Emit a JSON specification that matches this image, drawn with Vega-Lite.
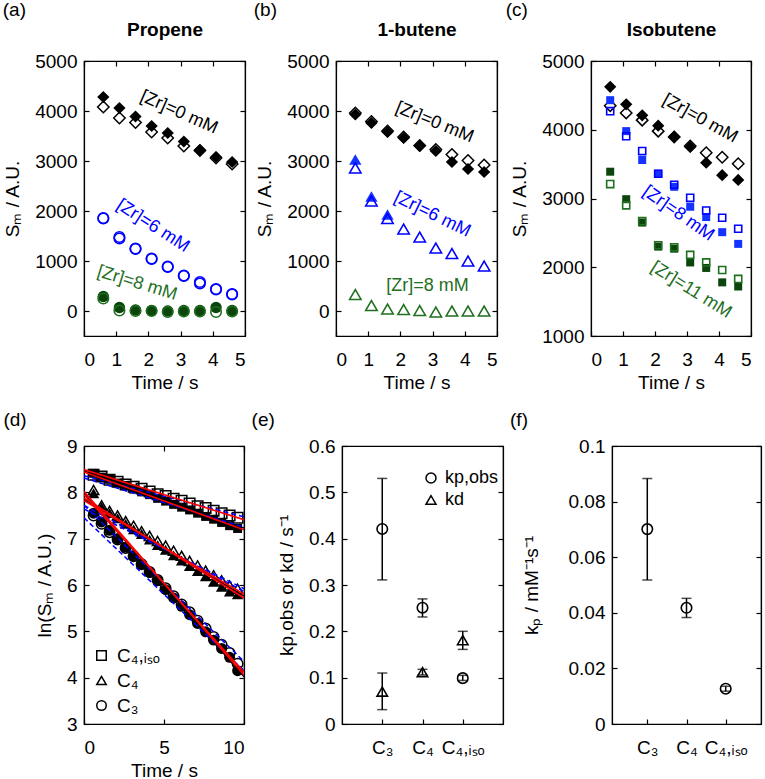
{
  "$schema": "https://vega.github.io/schema/vega-lite/v6.json",
  "padding": {"left": 2, "top": 0, "right": 0, "bottom": 0},
  "spacing": 17,
  "resolve": {"scale": {"shape": "independent", "stroke": "independent", "fill": "independent"}, "legend": {"shape": "independent"}},
  "config": {
    "font": "Liberation Sans",
    "view": {"stroke": "black", "strokeWidth": 1.2},
    "axis": {"grid": false, "domainColor": "black", "tickColor": "black", "labelColor": "black", "titleColor": "black", "labelFont": "Liberation Sans", "titleFont": "Liberation Sans", "labelFontSize": 19, "titleFontSize": 19, "titleFontWeight": "normal", "tickSize": -5, "domainWidth": 1.2, "tickWidth": 1.2},
    "axisX": {"labelPadding": 19, "titlePadding": 4, "labelAngle": 0},
    "axisY": {"labelPadding": 12, "titlePadding": 12},
    "title": {"font": "Liberation Sans", "fontSize": 19, "fontWeight": "normal", "color": "black", "anchor": "start", "frame": "bounds"},
    "legend": {"labelFont": "Liberation Sans", "labelFontSize": 19, "labelColor": "black"}
  },
  "datasets": {
    "A": [
      {"t":0.6,"v":4280,"g":"0","f":"f"},{"t":1.1,"v":4060,"g":"0","f":"f"},{"t":1.6,"v":3890,"g":"0","f":"f"},{"t":2.1,"v":3700,"g":"0","f":"f"},{"t":2.6,"v":3560,"g":"0","f":"f"},{"t":3.1,"v":3390,"g":"0","f":"f"},{"t":3.6,"v":3220,"g":"0","f":"f"},{"t":4.1,"v":3080,"g":"0","f":"f"},{"t":4.6,"v":2980,"g":"0","f":"f"},
      {"t":0.6,"v":4080,"g":"0","f":"o"},{"t":1.1,"v":3860,"g":"0","f":"o"},{"t":1.6,"v":3770,"g":"0","f":"o"},{"t":2.1,"v":3580,"g":"0","f":"o"},{"t":2.6,"v":3460,"g":"0","f":"o"},{"t":3.1,"v":3300,"g":"0","f":"o"},{"t":3.6,"v":3210,"g":"0","f":"o"},{"t":4.1,"v":3060,"g":"0","f":"o"},{"t":4.6,"v":2940,"g":"0","f":"o"},
      {"t":0.6,"v":1860,"g":"1","f":"o"},{"t":1.1,"v":1480,"g":"1","f":"o"},{"t":1.6,"v":1250,"g":"1","f":"o"},{"t":2.1,"v":1050,"g":"1","f":"o"},{"t":2.6,"v":890,"g":"1","f":"o"},{"t":3.1,"v":710,"g":"1","f":"o"},{"t":3.6,"v":580,"g":"1","f":"o"},{"t":4.1,"v":440,"g":"1","f":"o"},{"t":4.6,"v":340,"g":"1","f":"o"},
      {"t":0.6,"v":1850,"g":"1","f":"o"},{"t":1.1,"v":1450,"g":"1","f":"o"},{"t":1.6,"v":1240,"g":"1","f":"o"},{"t":2.1,"v":1040,"g":"1","f":"o"},{"t":2.6,"v":880,"g":"1","f":"o"},{"t":3.1,"v":700,"g":"1","f":"o"},{"t":3.6,"v":550,"g":"1","f":"o"},{"t":4.1,"v":430,"g":"1","f":"o"},{"t":4.6,"v":330,"g":"1","f":"o"},
      {"t":0.6,"v":290,"g":"2","f":"f"},{"t":1.1,"v":70,"g":"2","f":"f"},{"t":1.6,"v":20,"g":"2","f":"f"},{"t":2.1,"v":10,"g":"2","f":"f"},{"t":2.6,"v":0,"g":"2","f":"f"},{"t":3.1,"v":10,"g":"2","f":"f"},{"t":3.6,"v":10,"g":"2","f":"f"},{"t":4.1,"v":70,"g":"2","f":"f"},{"t":4.6,"v":10,"g":"2","f":"f"},
      {"t":0.6,"v":250,"g":"2","f":"o"},{"t":1.1,"v":10,"g":"2","f":"o"},{"t":1.6,"v":0,"g":"2","f":"o"},{"t":2.1,"v":0,"g":"2","f":"o"},{"t":2.6,"v":-20,"g":"2","f":"o"},{"t":3.1,"v":-10,"g":"2","f":"o"},{"t":3.6,"v":-10,"g":"2","f":"o"},{"t":4.1,"v":-20,"g":"2","f":"o"},{"t":4.6,"v":-10,"g":"2","f":"o"}
    ],
    "B": [
      {"t":0.6,"v":3930,"g":"0","f":"f"},{"t":1.1,"v":3760,"g":"0","f":"f"},{"t":1.6,"v":3580,"g":"0","f":"f"},{"t":2.1,"v":3460,"g":"0","f":"f"},{"t":2.6,"v":3300,"g":"0","f":"f"},{"t":3.1,"v":3200,"g":"0","f":"f"},{"t":3.6,"v":2980,"g":"0","f":"f"},{"t":4.1,"v":2840,"g":"0","f":"f"},{"t":4.6,"v":2780,"g":"0","f":"f"},
      {"t":0.6,"v":3960,"g":"0","f":"o"},{"t":1.1,"v":3790,"g":"0","f":"o"},{"t":1.6,"v":3600,"g":"0","f":"o"},{"t":2.1,"v":3480,"g":"0","f":"o"},{"t":2.6,"v":3310,"g":"0","f":"o"},{"t":3.1,"v":3230,"g":"0","f":"o"},{"t":3.6,"v":3130,"g":"0","f":"o"},{"t":4.1,"v":3010,"g":"0","f":"o"},{"t":4.6,"v":2920,"g":"0","f":"o"},
      {"t":0.6,"v":3030,"g":"1","f":"f"},{"t":1.1,"v":2290,"g":"1","f":"f"},{"t":1.6,"v":1930,"g":"1","f":"f"},
      {"t":0.6,"v":2860,"g":"1","f":"o"},{"t":1.1,"v":2200,"g":"1","f":"o"},{"t":1.6,"v":1850,"g":"1","f":"o"},{"t":2.1,"v":1640,"g":"1","f":"o"},{"t":2.6,"v":1480,"g":"1","f":"o"},{"t":3.1,"v":1260,"g":"1","f":"o"},{"t":3.6,"v":1150,"g":"1","f":"o"},{"t":4.1,"v":1000,"g":"1","f":"o"},{"t":4.6,"v":900,"g":"1","f":"o"},
      {"t":0.6,"v":330,"g":"2","f":"o"},{"t":1.1,"v":110,"g":"2","f":"o"},{"t":1.6,"v":40,"g":"2","f":"o"},{"t":2.1,"v":30,"g":"2","f":"o"},{"t":2.6,"v":10,"g":"2","f":"o"},{"t":3.1,"v":-20,"g":"2","f":"o"},{"t":3.6,"v":0,"g":"2","f":"o"},{"t":4.1,"v":0,"g":"2","f":"o"},{"t":4.6,"v":0,"g":"2","f":"o"}
    ],
    "C": [
      {"t":0.6,"v":4625,"g":"0","f":"f"},{"t":1.1,"v":4370,"g":"0","f":"f"},{"t":1.6,"v":4210,"g":"0","f":"f"},{"t":2.1,"v":4060,"g":"0","f":"f"},{"t":2.6,"v":3900,"g":"0","f":"f"},{"t":3.1,"v":3750,"g":"0","f":"f"},{"t":3.6,"v":3520,"g":"0","f":"f"},{"t":4.1,"v":3340,"g":"0","f":"f"},{"t":4.6,"v":3270,"g":"0","f":"f"},
      {"t":0.6,"v":4350,"g":"0","f":"o"},{"t":1.1,"v":4245,"g":"0","f":"o"},{"t":1.6,"v":4140,"g":"0","f":"o"},{"t":2.1,"v":3980,"g":"0","f":"o"},{"t":2.6,"v":3895,"g":"0","f":"o"},{"t":3.1,"v":3765,"g":"0","f":"o"},{"t":3.6,"v":3665,"g":"0","f":"o"},{"t":4.1,"v":3600,"g":"0","f":"o"},{"t":4.6,"v":3505,"g":"0","f":"o"},
      {"t":0.6,"v":4430,"g":"1","f":"f"},{"t":1.1,"v":3980,"g":"1","f":"f"},{"t":1.6,"v":3560,"g":"1","f":"f"},{"t":2.1,"v":3360,"g":"1","f":"f"},{"t":2.6,"v":3170,"g":"1","f":"f"},{"t":3.1,"v":2880,"g":"1","f":"f"},{"t":3.6,"v":2730,"g":"1","f":"f"},{"t":4.1,"v":2510,"g":"1","f":"f"},{"t":4.6,"v":2340,"g":"1","f":"f"},
      {"t":0.6,"v":4270,"g":"1","f":"o"},{"t":1.1,"v":3905,"g":"1","f":"o"},{"t":1.6,"v":3690,"g":"1","f":"o"},{"t":2.1,"v":3360,"g":"1","f":"o"},{"t":2.6,"v":3200,"g":"1","f":"o"},{"t":3.1,"v":3010,"g":"1","f":"o"},{"t":3.6,"v":2825,"g":"1","f":"o"},{"t":4.1,"v":2720,"g":"1","f":"o"},{"t":4.6,"v":2560,"g":"1","f":"o"},
      {"t":0.6,"v":3390,"g":"2","f":"f"},{"t":1.1,"v":2990,"g":"2","f":"f"},{"t":1.6,"v":2650,"g":"2","f":"f"},{"t":2.1,"v":2300,"g":"2","f":"f"},{"t":2.6,"v":2270,"g":"2","f":"f"},{"t":3.1,"v":2070,"g":"2","f":"f"},{"t":3.6,"v":1990,"g":"2","f":"f"},{"t":4.1,"v":1780,"g":"2","f":"f"},{"t":4.6,"v":1720,"g":"2","f":"f"},
      {"t":0.6,"v":3210,"g":"2","f":"o"},{"t":1.1,"v":2900,"g":"2","f":"o"},{"t":1.6,"v":2670,"g":"2","f":"o"},{"t":2.1,"v":2320,"g":"2","f":"o"},{"t":2.6,"v":2290,"g":"2","f":"o"},{"t":3.1,"v":2180,"g":"2","f":"o"},{"t":3.6,"v":2070,"g":"2","f":"o"},{"t":4.1,"v":1960,"g":"2","f":"o"},{"t":4.6,"v":1830,"g":"2","f":"o"}
    ],
    "D": [
      {"t":0.6,"v":8.38,"sp":"C₄,ᵢₛₒ","f":"o"},{"t":1.1,"v":8.34,"sp":"C₄,ᵢₛₒ","f":"o"},{"t":1.6,"v":8.27,"sp":"C₄,ᵢₛₒ","f":"o"},{"t":2.1,"v":8.23,"sp":"C₄,ᵢₛₒ","f":"o"},{"t":2.6,"v":8.17,"sp":"C₄,ᵢₛₒ","f":"o"},{"t":3.1,"v":8.12,"sp":"C₄,ᵢₛₒ","f":"o"},{"t":3.6,"v":8.08,"sp":"C₄,ᵢₛₒ","f":"o"},{"t":4.1,"v":8.02,"sp":"C₄,ᵢₛₒ","f":"o"},{"t":4.6,"v":7.96,"sp":"C₄,ᵢₛₒ","f":"o"},{"t":5.1,"v":7.92,"sp":"C₄,ᵢₛₒ","f":"o"},{"t":5.6,"v":7.86,"sp":"C₄,ᵢₛₒ","f":"o"},{"t":6.1,"v":7.82,"sp":"C₄,ᵢₛₒ","f":"o"},{"t":6.6,"v":7.76,"sp":"C₄,ᵢₛₒ","f":"o"},{"t":7.1,"v":7.70,"sp":"C₄,ᵢₛₒ","f":"o"},{"t":7.6,"v":7.66,"sp":"C₄,ᵢₛₒ","f":"o"},{"t":8.1,"v":7.60,"sp":"C₄,ᵢₛₒ","f":"o"},{"t":8.6,"v":7.55,"sp":"C₄,ᵢₛₒ","f":"o"},{"t":9.1,"v":7.50,"sp":"C₄,ᵢₛₒ","f":"o"},{"t":9.6,"v":7.45,"sp":"C₄,ᵢₛₒ","f":"o"},
      {"t":0.6,"v":8.41,"sp":"C₄,ᵢₛₒ","f":"f"},{"t":1.1,"v":8.33,"sp":"C₄,ᵢₛₒ","f":"f"},{"t":1.6,"v":8.28,"sp":"C₄,ᵢₛₒ","f":"f"},{"t":2.1,"v":8.20,"sp":"C₄,ᵢₛₒ","f":"f"},{"t":2.6,"v":8.15,"sp":"C₄,ᵢₛₒ","f":"f"},{"t":3.1,"v":8.07,"sp":"C₄,ᵢₛₒ","f":"f"},{"t":3.6,"v":8.01,"sp":"C₄,ᵢₛₒ","f":"f"},{"t":4.1,"v":7.95,"sp":"C₄,ᵢₛₒ","f":"f"},{"t":4.6,"v":7.87,"sp":"C₄,ᵢₛₒ","f":"f"},{"t":5.1,"v":7.81,"sp":"C₄,ᵢₛₒ","f":"f"},{"t":5.6,"v":7.74,"sp":"C₄,ᵢₛₒ","f":"f"},{"t":6.1,"v":7.68,"sp":"C₄,ᵢₛₒ","f":"f"},{"t":6.6,"v":7.62,"sp":"C₄,ᵢₛₒ","f":"f"},{"t":7.1,"v":7.55,"sp":"C₄,ᵢₛₒ","f":"f"},{"t":7.6,"v":7.48,"sp":"C₄,ᵢₛₒ","f":"f"},{"t":8.1,"v":7.42,"sp":"C₄,ᵢₛₒ","f":"f"},{"t":8.6,"v":7.35,"sp":"C₄,ᵢₛₒ","f":"f"},{"t":9.1,"v":7.28,"sp":"C₄,ᵢₛₒ","f":"f"},{"t":9.6,"v":7.22,"sp":"C₄,ᵢₛₒ","f":"f"},
      {"t":0.6,"v":8.05,"sp":"C₄","f":"o"},{"t":1.1,"v":7.72,"sp":"C₄","f":"o"},{"t":1.6,"v":7.60,"sp":"C₄","f":"o"},{"t":2.1,"v":7.50,"sp":"C₄","f":"o"},{"t":2.6,"v":7.38,"sp":"C₄","f":"o"},{"t":3.1,"v":7.28,"sp":"C₄","f":"o"},{"t":3.6,"v":7.16,"sp":"C₄","f":"o"},{"t":4.1,"v":7.06,"sp":"C₄","f":"o"},{"t":4.6,"v":6.95,"sp":"C₄","f":"o"},{"t":5.1,"v":6.85,"sp":"C₄","f":"o"},{"t":5.6,"v":6.74,"sp":"C₄","f":"o"},{"t":6.1,"v":6.63,"sp":"C₄","f":"o"},{"t":6.6,"v":6.52,"sp":"C₄","f":"o"},{"t":7.1,"v":6.42,"sp":"C₄","f":"o"},{"t":7.6,"v":6.31,"sp":"C₄","f":"o"},{"t":8.1,"v":6.21,"sp":"C₄","f":"o"},{"t":8.6,"v":6.10,"sp":"C₄","f":"o"},{"t":9.1,"v":5.99,"sp":"C₄","f":"o"},{"t":9.6,"v":5.92,"sp":"C₄","f":"o"},
      {"t":0.6,"v":7.98,"sp":"C₄","f":"f"},{"t":1.1,"v":7.68,"sp":"C₄","f":"f"},{"t":1.6,"v":7.55,"sp":"C₄","f":"f"},{"t":2.1,"v":7.44,"sp":"C₄","f":"f"},{"t":2.6,"v":7.32,"sp":"C₄","f":"f"},{"t":3.1,"v":7.20,"sp":"C₄","f":"f"},{"t":3.6,"v":7.10,"sp":"C₄","f":"f"},{"t":4.1,"v":6.98,"sp":"C₄","f":"f"},{"t":4.6,"v":6.86,"sp":"C₄","f":"f"},{"t":5.1,"v":6.76,"sp":"C₄","f":"f"},{"t":5.6,"v":6.64,"sp":"C₄","f":"f"},{"t":6.1,"v":6.53,"sp":"C₄","f":"f"},{"t":6.6,"v":6.41,"sp":"C₄","f":"f"},{"t":7.1,"v":6.30,"sp":"C₄","f":"f"},{"t":7.6,"v":6.19,"sp":"C₄","f":"f"},{"t":8.1,"v":6.07,"sp":"C₄","f":"f"},{"t":8.6,"v":5.96,"sp":"C₄","f":"f"},{"t":9.1,"v":5.86,"sp":"C₄","f":"f"},{"t":9.6,"v":5.80,"sp":"C₄","f":"f"},
      {"t":0.6,"v":7.50,"sp":"C₃","f":"o"},{"t":1.1,"v":7.32,"sp":"C₃","f":"o"},{"t":1.6,"v":7.14,"sp":"C₃","f":"o"},{"t":2.1,"v":6.98,"sp":"C₃","f":"o"},{"t":2.6,"v":6.80,"sp":"C₃","f":"o"},{"t":3.1,"v":6.62,"sp":"C₃","f":"o"},{"t":3.6,"v":6.45,"sp":"C₃","f":"o"},{"t":4.1,"v":6.28,"sp":"C₃","f":"o"},{"t":4.6,"v":6.11,"sp":"C₃","f":"o"},{"t":5.1,"v":5.93,"sp":"C₃","f":"o"},{"t":5.6,"v":5.76,"sp":"C₃","f":"o"},{"t":6.1,"v":5.58,"sp":"C₃","f":"o"},{"t":6.6,"v":5.41,"sp":"C₃","f":"o"},{"t":7.1,"v":5.23,"sp":"C₃","f":"o"},{"t":7.6,"v":5.06,"sp":"C₃","f":"o"},{"t":8.1,"v":4.88,"sp":"C₃","f":"o"},{"t":8.6,"v":4.71,"sp":"C₃","f":"o"},{"t":9.1,"v":4.53,"sp":"C₃","f":"o"},{"t":9.6,"v":4.30,"sp":"C₃","f":"o"},
      {"t":0.6,"v":7.55,"sp":"C₃","f":"f"},{"t":1.1,"v":7.36,"sp":"C₃","f":"f"},{"t":1.6,"v":7.18,"sp":"C₃","f":"f"},{"t":2.1,"v":7.00,"sp":"C₃","f":"f"},{"t":2.6,"v":6.82,"sp":"C₃","f":"f"},{"t":3.1,"v":6.63,"sp":"C₃","f":"f"},{"t":3.6,"v":6.45,"sp":"C₃","f":"f"},{"t":4.1,"v":6.27,"sp":"C₃","f":"f"},{"t":4.6,"v":6.09,"sp":"C₃","f":"f"},{"t":5.1,"v":5.90,"sp":"C₃","f":"f"},{"t":5.6,"v":5.72,"sp":"C₃","f":"f"},{"t":6.1,"v":5.54,"sp":"C₃","f":"f"},{"t":6.6,"v":5.36,"sp":"C₃","f":"f"},{"t":7.1,"v":5.17,"sp":"C₃","f":"f"},{"t":7.6,"v":4.99,"sp":"C₃","f":"f"},{"t":8.1,"v":4.81,"sp":"C₃","f":"f"},{"t":8.6,"v":4.63,"sp":"C₃","f":"f"},{"t":9.1,"v":4.44,"sp":"C₃","f":"f"},{"t":9.6,"v":4.15,"sp":"C₃","f":"f"}
    ],
    "DL": [
      {"id":"i1","k":"r","t":0,"v":8.49},{"id":"i1","k":"r","t":10,"v":7.41},
      {"id":"i2","k":"r","t":0,"v":8.44},{"id":"i2","k":"r","t":10,"v":7.19},
      {"id":"i3","k":"b","t":0,"v":8.36},{"id":"i3","k":"b","t":10,"v":7.47},
      {"id":"i4","k":"b","t":0,"v":8.31},{"id":"i4","k":"b","t":10,"v":7.25},
      {"id":"i5","k":"k","t":0,"v":8.46},{"id":"i5","k":"k","t":10,"v":7.23},
      {"id":"c1","k":"r","t":0,"v":7.88},{"id":"c1","k":"r","t":10,"v":5.72},
      {"id":"c2","k":"r","t":0,"v":7.82},{"id":"c2","k":"r","t":10,"v":5.80},
      {"id":"c3","k":"b","t":0,"v":7.72},{"id":"c3","k":"b","t":10,"v":5.86},
      {"id":"c4","k":"b","t":0,"v":7.64},{"id":"c4","k":"b","t":10,"v":5.92},
      {"id":"c5","k":"k","t":0,"v":7.85},{"id":"c5","k":"k","t":10,"v":5.76},
      {"id":"p1","k":"r","t":0,"v":8.02},{"id":"p1","k":"r","t":10,"v":4.06},
      {"id":"p2","k":"r","t":0,"v":7.95},{"id":"p2","k":"r","t":10,"v":4.12},
      {"id":"p3","k":"b","t":0,"v":7.72},{"id":"p3","k":"b","t":10,"v":4.35},
      {"id":"p4","k":"b","t":0,"v":7.45},{"id":"p4","k":"b","t":10,"v":4.15},
      {"id":"p5","k":"k","t":0,"v":7.98},{"id":"p5","k":"k","t":10,"v":4.02}
    ],
    "E": [
      {"sp":"C₃","p":"kp,obs","v":0.421,"lo":0.311,"hi":0.530},
      {"sp":"C₄","p":"kp,obs","v":0.251,"lo":0.231,"hi":0.270},
      {"sp":"C₄,ᵢₛₒ","p":"kp,obs","v":0.099,"lo":0.094,"hi":0.105},
      {"sp":"C₃","p":"kd","v":0.070,"lo":0.031,"hi":0.110},
      {"sp":"C₄","p":"kd","v":0.112,"lo":0.106,"hi":0.118},
      {"sp":"C₄,ᵢₛₒ","p":"kd","v":0.181,"lo":0.161,"hi":0.200}
    ],
    "F": [
      {"sp":"C₃","v":0.0701,"lo":0.0518,"hi":0.0883},
      {"sp":"C₄","v":0.0418,"lo":0.0383,"hi":0.0452},
      {"sp":"C₄,ᵢₛₒ","v":0.0127,"lo":0.0118,"hi":0.0136}
    ]
  },
  "vconcat": [
    {
      "spacing": 6,
      "resolve": {"scale": {"shape": "independent", "stroke": "independent", "fill": "independent"}, "legend": {"shape": "independent"}},
      "hconcat": [
        {
          "width": 161, "height": 275,
          "title": {"text": "(a)", "offset": 0, "dx": -1},
          "resolve": {"axis": {"x": "independent", "y": "independent"}},
          "layer": [
            {"data": {"name": "A"}, "mark": {"type": "point", "opacity": 0}, "encoding": {
              "x": {"field": "t", "type": "quantitative", "scale": {"domain": [0, 5]}, "axis": {"orient": "top", "labels": false, "title": "Propene", "titleFontWeight": "bold", "titlePadding": 21, "values": [0, 1, 2, 3, 4, 5]}},
              "y": {"field": "v", "type": "quantitative", "scale": {"domain": [-500, 5000]}, "axis": {"orient": "right", "labels": false, "title": null, "values": [0, 1000, 2000, 3000, 4000, 5000]}}}},
            {
              "data": {"name": "A"},
              "encoding": {
                "x": {"field": "t", "type": "quantitative", "scale": {"domain": [0, 5]}, "axis": {"orient": "bottom", "title": "Time / s", "values": [0, 1, 2, 3, 4, 5]}},
                "y": {"field": "v", "type": "quantitative", "scale": {"domain": [-500, 5000]}, "axis": {"orient": "left", "title": "Sₘ / A.U.", "values": [0, 1000, 2000, 3000, 4000, 5000], "format": "d"}}
              },
              "layer": [
                {"transform": [{"filter": "datum.g == '0' && datum.f == 'f'"}], "mark": {"type": "point", "shape": "diamond", "filled": true, "size": 150, "strokeWidth": 0, "opacity": 1}, "encoding": {"fill": {"field": "g", "type": "nominal", "scale": {"domain": ["0", "1", "2"], "range": ["#000000", "#1433ff", "#0b450b"]}, "legend": null}}},
                {"transform": [{"filter": "datum.g == '0' && datum.f == 'o'"}], "mark": {"type": "point", "shape": "diamond", "filled": false, "size": 130, "strokeWidth": 1.5, "opacity": 1}, "encoding": {"stroke": {"field": "g", "type": "nominal", "scale": {"domain": ["0", "1", "2"], "range": ["#000000", "#0000ff", "#1f6f1f"]}, "legend": null}}},
                {"transform": [{"filter": "datum.g != '0' && datum.f == 'f'"}], "mark": {"type": "point", "shape": "circle", "filled": true, "size": 130, "strokeWidth": 0, "opacity": 1}, "encoding": {"fill": {"field": "g", "type": "nominal", "scale": {"domain": ["0", "1", "2"], "range": ["#000000", "#1433ff", "#0b450b"]}, "legend": null}}},
                {"transform": [{"filter": "datum.g != '0' && datum.f == 'o'"}], "mark": {"type": "point", "shape": "circle", "filled": false, "size": 110, "strokeWidth": 1.6, "opacity": 1}, "encoding": {"stroke": {"field": "g", "type": "nominal", "scale": {"domain": ["0", "1", "2"], "range": ["#000000", "#0000ff", "#1f6f1f"]}, "legend": null}}},
                {"data": {"values": [{"t": 2.95, "v": 3970, "label": "[Zr]=0 mM"}]}, "mark": {"type": "text", "angle": 24, "fontSize": 18, "color": "#000000"}, "encoding": {"text": {"field": "label"}}},
                {"data": {"values": [{"t": 2.14, "v": 1700, "label": "[Zr]=6 mM"}]}, "mark": {"type": "text", "angle": 33, "fontSize": 18, "color": "#0000ff"}, "encoding": {"text": {"field": "label"}}},
                {"data": {"values": [{"t": 1.65, "v": 554, "label": "[Zr]=8 mM"}]}, "mark": {"type": "text", "angle": 17, "fontSize": 18, "color": "#1f6f1f"}, "encoding": {"text": {"field": "label"}}}
              ]
            }
          ]
        },
        {
          "width": 161, "height": 275,
          "title": {"text": "(b)", "offset": 0, "dx": -2},
          "resolve": {"axis": {"x": "independent", "y": "independent"}},
          "layer": [
            {"data": {"name": "B"}, "mark": {"type": "point", "opacity": 0}, "encoding": {
              "x": {"field": "t", "type": "quantitative", "scale": {"domain": [0, 5]}, "axis": {"orient": "top", "labels": false, "title": "1-butene", "titleFontWeight": "bold", "titlePadding": 21, "values": [0, 1, 2, 3, 4, 5]}},
              "y": {"field": "v", "type": "quantitative", "scale": {"domain": [-500, 5000]}, "axis": {"orient": "right", "labels": false, "title": null, "values": [0, 1000, 2000, 3000, 4000, 5000]}}}},
            {
              "data": {"name": "B"},
              "encoding": {
                "x": {"field": "t", "type": "quantitative", "scale": {"domain": [0, 5]}, "axis": {"orient": "bottom", "title": "Time / s", "values": [0, 1, 2, 3, 4, 5]}},
                "y": {"field": "v", "type": "quantitative", "scale": {"domain": [-500, 5000]}, "axis": {"orient": "left", "title": "Sₘ / A.U.", "values": [0, 1000, 2000, 3000, 4000, 5000], "format": "d"}}
              },
              "layer": [
                {"transform": [{"filter": "datum.g == '0' && datum.f == 'f'"}], "mark": {"type": "point", "shape": "diamond", "filled": true, "size": 150, "strokeWidth": 0, "opacity": 1}, "encoding": {"fill": {"field": "g", "type": "nominal", "scale": {"domain": ["0", "1", "2"], "range": ["#000000", "#1433ff", "#0b450b"]}, "legend": null}}},
                {"transform": [{"filter": "datum.g == '0' && datum.f == 'o'"}], "mark": {"type": "point", "shape": "diamond", "filled": false, "size": 130, "strokeWidth": 1.5, "opacity": 1}, "encoding": {"stroke": {"field": "g", "type": "nominal", "scale": {"domain": ["0", "1", "2"], "range": ["#000000", "#0000ff", "#1f6f1f"]}, "legend": null}}},
                {"transform": [{"filter": "datum.g != '0' && datum.f == 'f'"}], "mark": {"type": "point", "shape": "triangle-up", "filled": true, "size": 150, "strokeWidth": 0, "opacity": 1}, "encoding": {"fill": {"field": "g", "type": "nominal", "scale": {"domain": ["0", "1", "2"], "range": ["#000000", "#1433ff", "#0b450b"]}, "legend": null}}},
                {"transform": [{"filter": "datum.g != '0' && datum.f == 'o'"}], "mark": {"type": "point", "shape": "triangle-up", "filled": false, "size": 130, "strokeWidth": 1.6, "opacity": 1}, "encoding": {"stroke": {"field": "g", "type": "nominal", "scale": {"domain": ["0", "1", "2"], "range": ["#000000", "#0000ff", "#1f6f1f"]}, "legend": null}}},
                {"data": {"values": [{"t": 3.06, "v": 3770, "label": "[Zr]=0 mM"}]}, "mark": {"type": "text", "angle": 22, "fontSize": 18, "color": "#000000"}, "encoding": {"text": {"field": "label"}}},
                {"data": {"values": [{"t": 2.99, "v": 1930, "label": "[Zr]=6 mM"}]}, "mark": {"type": "text", "angle": 26, "fontSize": 18, "color": "#0000ff"}, "encoding": {"text": {"field": "label"}}},
                {"data": {"values": [{"t": 2.84, "v": 500, "label": "[Zr]=8 mM"}]}, "mark": {"type": "text", "angle": 0, "fontSize": 18, "color": "#1f6f1f"}, "encoding": {"text": {"field": "label"}}}
              ]
            }
          ]
        },
        {
          "width": 160, "height": 275,
          "title": {"text": "(c)", "offset": 0, "dx": -5},
          "resolve": {"axis": {"x": "independent", "y": "independent"}},
          "layer": [
            {"data": {"name": "C"}, "mark": {"type": "point", "opacity": 0}, "encoding": {
              "x": {"field": "t", "type": "quantitative", "scale": {"domain": [0, 5]}, "axis": {"orient": "top", "labels": false, "title": "Isobutene", "titleFontWeight": "bold", "titlePadding": 21, "values": [0, 1, 2, 3, 4, 5]}},
              "y": {"field": "v", "type": "quantitative", "scale": {"domain": [1000, 5000]}, "axis": {"orient": "right", "labels": false, "title": null, "values": [1000, 2000, 3000, 4000, 5000]}}}},
            {
              "data": {"name": "C"},
              "encoding": {
                "x": {"field": "t", "type": "quantitative", "scale": {"domain": [0, 5]}, "axis": {"orient": "bottom", "title": "Time / s", "values": [0, 1, 2, 3, 4, 5]}},
                "y": {"field": "v", "type": "quantitative", "scale": {"domain": [1000, 5000]}, "axis": {"orient": "left", "title": "Sₘ / A.U.", "values": [1000, 2000, 3000, 4000, 5000], "format": "d"}}
              },
              "layer": [
                {"transform": [{"filter": "datum.g == '0' && datum.f == 'f'"}], "mark": {"type": "point", "shape": "diamond", "filled": true, "size": 150, "strokeWidth": 0, "opacity": 1}, "encoding": {"fill": {"field": "g", "type": "nominal", "scale": {"domain": ["0", "1", "2"], "range": ["#000000", "#1433ff", "#0b450b"]}, "legend": null}}},
                {"transform": [{"filter": "datum.g == '0' && datum.f == 'o'"}], "mark": {"type": "point", "shape": "diamond", "filled": false, "size": 130, "strokeWidth": 1.5, "opacity": 1}, "encoding": {"stroke": {"field": "g", "type": "nominal", "scale": {"domain": ["0", "1", "2"], "range": ["#000000", "#0000ff", "#1f6f1f"]}, "legend": null}}},
                {"transform": [{"filter": "datum.g != '0' && datum.f == 'f'"}], "mark": {"type": "point", "shape": "square", "filled": true, "size": 64, "strokeWidth": 0, "opacity": 1}, "encoding": {"fill": {"field": "g", "type": "nominal", "scale": {"domain": ["0", "1", "2"], "range": ["#000000", "#1433ff", "#0b450b"]}, "legend": null}}},
                {"transform": [{"filter": "datum.g != '0' && datum.f == 'o'"}], "mark": {"type": "point", "shape": "square", "filled": false, "size": 50, "strokeWidth": 1.6, "opacity": 1}, "encoding": {"stroke": {"field": "g", "type": "nominal", "scale": {"domain": ["0", "1", "2"], "range": ["#000000", "#0000ff", "#1f6f1f"]}, "legend": null}}},
                {"data": {"values": [{"t": 3.41, "v": 4160, "label": "[Zr]=0 mM"}]}, "mark": {"type": "text", "angle": 29, "fontSize": 18, "color": "#000000"}, "encoding": {"text": {"field": "label"}}},
                {"data": {"values": [{"t": 2.73, "v": 2780, "label": "[Zr]=8 mM"}]}, "mark": {"type": "text", "angle": 35, "fontSize": 18, "color": "#0000ff"}, "encoding": {"text": {"field": "label"}}},
                {"data": {"values": [{"t": 3.13, "v": 1670, "label": "[Zr]=11 mM"}]}, "mark": {"type": "text", "angle": 32, "fontSize": 18, "color": "#1f6f1f"}, "encoding": {"text": {"field": "label"}}}
              ]
            }
          ]
        }
      ]
    },
    {
      "spacing": 3,
      "resolve": {"scale": {"shape": "independent", "stroke": "independent", "fill": "independent"}, "legend": {"shape": "independent"}},
      "hconcat": [
        {
          "width": 160, "height": 278,
          "title": {"text": "(d)", "offset": 7, "dx": -32},
          "resolve": {"axis": {"x": "independent", "y": "independent"}},
          "layer": [
            {"data": {"name": "D"}, "mark": {"type": "point", "opacity": 0}, "encoding": {
              "x": {"field": "t", "type": "quantitative", "scale": {"domain": [0, 10]}, "axis": {"orient": "top", "labels": false, "title": null, "values": [0, 5, 10]}},
              "y": {"field": "v", "type": "quantitative", "scale": {"domain": [3, 9]}, "axis": {"orient": "right", "labels": false, "title": null, "values": [3, 4, 5, 6, 7, 8, 9]}}}},
            {
              "encoding": {
                "x": {"field": "t", "type": "quantitative", "scale": {"domain": [0, 10]}, "axis": {"orient": "bottom", "title": "Time / s", "values": [0, 5, 10]}},
                "y": {"field": "v", "type": "quantitative", "scale": {"domain": [3, 9]}, "axis": {"orient": "left", "title": "ln(Sₘ / A.U.)", "values": [3, 4, 5, 6, 7, 8, 9]}}
              },
              "layer": [
                {"data": {"name": "D"}, "transform": [{"filter": "datum.f == 'f' && datum.sp == 'C₄,ᵢₛₒ'"}], "mark": {"type": "point", "shape": "square", "filled": true, "size": 80, "color": "black", "opacity": 1}},
                {"data": {"name": "D"}, "transform": [{"filter": "datum.f == 'f' && datum.sp == 'C₄'"}], "mark": {"type": "point", "shape": "triangle-up", "filled": true, "size": 130, "color": "black", "opacity": 1}},
                {"data": {"name": "D"}, "transform": [{"filter": "datum.f == 'f' && datum.sp == 'C₃'"}], "mark": {"type": "point", "shape": "circle", "filled": true, "size": 120, "color": "black", "opacity": 1}},
                {"data": {"name": "D"}, "transform": [{"filter": "datum.f == 'o'"}], "mark": {"type": "point", "filled": false, "size": 110, "strokeWidth": 1.5, "color": "black", "opacity": 1},
                  "encoding": {"shape": {"field": "sp", "type": "nominal", "scale": {"domain": ["C₄,ᵢₛₒ", "C₄", "C₃"], "range": ["square", "triangle-up", "circle"]},
                    "legend": {"title": null, "orient": "bottom-left", "offset": 8, "padding": 0, "rowPadding": 5, "symbolSize": 90, "symbolStrokeColor": "black", "symbolStrokeWidth": 1.5, "symbolFillColor": "transparent", "labelFontSize": 19, "labelOffset": 6}}}},
                {"data": {"name": "DL"}, "transform": [{"filter": "datum.k == 'k'"}], "mark": {"type": "line", "color": "black", "strokeWidth": 1.4, "clip": true}, "encoding": {"detail": {"field": "id"}}},
                {"data": {"name": "DL"}, "transform": [{"filter": "datum.k == 'b'"}], "mark": {"type": "line", "color": "#0000ff", "strokeWidth": 1.5, "strokeDash": [5, 3], "clip": true}, "encoding": {"detail": {"field": "id"}}},
                {"data": {"name": "DL"}, "transform": [{"filter": "datum.k == 'r'"}], "mark": {"type": "line", "color": "#ff0000", "strokeWidth": 1.6, "clip": true}, "encoding": {"detail": {"field": "id"}}}
              ]
            }
          ]
        },
        {
          "spacing": 4,
          "resolve": {"scale": {"shape": "independent", "stroke": "independent", "fill": "independent"}, "legend": {"shape": "independent"}},
          "hconcat": [
            {
              "width": 161, "height": 278,
              "title": {"text": "(e)", "offset": 7, "dx": -26},
              "data": {"name": "E"},
              "resolve": {"axis": {"y": "independent"}},
              "layer": [
                {"mark": {"type": "point", "opacity": 0}, "encoding": {"y": {"field": "v", "type": "quantitative", "scale": {"domain": [0, 0.6]}, "axis": {"orient": "right", "labels": false, "title": null, "values": [0, 0.1, 0.2, 0.3, 0.4, 0.5, 0.6]}}}},
                {
                  "encoding": {
                    "x": {"field": "sp", "type": "nominal", "sort": null, "scale": {"type": "point", "domain": ["C₃", "C₄", "C₄,ᵢₛₒ"], "padding": 1}, "axis": {"orient": "bottom", "title": null, "labelAngle": 0}},
                    "y": {"field": "v", "type": "quantitative", "scale": {"domain": [0, 0.6]}, "axis": {"orient": "left", "title": "kp,obs or kd / s⁻¹", "titlePadding": 12, "values": [0, 0.1, 0.2, 0.3, 0.4, 0.5, 0.6], "format": ".1~f"}}
                  },
                  "layer": [
                    {"mark": {"type": "rule", "color": "black", "strokeWidth": 1.5}, "encoding": {"y": {"field": "lo", "type": "quantitative"}, "y2": {"field": "hi"}}},
                    {"mark": {"type": "tick", "orient": "horizontal", "color": "black", "size": 10, "thickness": 1.5}, "encoding": {"y": {"field": "lo", "type": "quantitative"}}},
                    {"mark": {"type": "tick", "orient": "horizontal", "color": "black", "size": 10, "thickness": 1.5}, "encoding": {"y": {"field": "hi", "type": "quantitative"}}},
                    {"mark": {"type": "point", "filled": false, "size": 110, "strokeWidth": 1.6, "color": "black", "opacity": 1},
                      "encoding": {"shape": {"field": "p", "type": "nominal", "scale": {"domain": ["kp,obs", "kd"], "range": ["circle", "triangle-up"]},
                        "legend": {"title": null, "orient": "none", "legendX": 80, "legendY": 23, "padding": 0, "rowPadding": 4, "symbolSize": 100, "symbolStrokeColor": "black", "symbolStrokeWidth": 1.5, "symbolFillColor": "transparent", "labelFontSize": 18, "labelOffset": 5}}}}
                  ]
                }
              ]
            },
            {
              "width": 149, "height": 278,
              "title": {"text": "(f)", "offset": 7, "dx": -12},
              "data": {"name": "F"},
              "resolve": {"axis": {"y": "independent"}},
              "layer": [
                {"mark": {"type": "point", "opacity": 0}, "encoding": {"y": {"field": "v", "type": "quantitative", "scale": {"domain": [0, 0.1]}, "axis": {"orient": "right", "labels": false, "title": null, "values": [0, 0.02, 0.04, 0.06, 0.08, 0.1]}}}},
                {
                  "encoding": {
                    "x": {"field": "sp", "type": "nominal", "sort": null, "scale": {"type": "point", "domain": ["C₃", "C₄", "C₄,ᵢₛₒ"], "padding": 0.9}, "axis": {"orient": "bottom", "title": null, "labelAngle": 0}},
                    "y": {"field": "v", "type": "quantitative", "scale": {"domain": [0, 0.1]}, "axis": {"orient": "left", "title": "kₚ / mM⁻¹s⁻¹", "titlePadding": 27, "values": [0, 0.02, 0.04, 0.06, 0.08, 0.1], "format": ".2~f"}}
                  },
                  "layer": [
                    {"mark": {"type": "rule", "color": "black", "strokeWidth": 1.5}, "encoding": {"y": {"field": "lo", "type": "quantitative"}, "y2": {"field": "hi"}}},
                    {"mark": {"type": "tick", "orient": "horizontal", "color": "black", "size": 10, "thickness": 1.5}, "encoding": {"y": {"field": "lo", "type": "quantitative"}}},
                    {"mark": {"type": "tick", "orient": "horizontal", "color": "black", "size": 10, "thickness": 1.5}, "encoding": {"y": {"field": "hi", "type": "quantitative"}}},
                    {"mark": {"type": "point", "shape": "circle", "filled": false, "size": 110, "strokeWidth": 1.6, "color": "black", "opacity": 1}}
                  ]
                }
              ]
            }
          ]
        }
      ]
    }
  ]
}
